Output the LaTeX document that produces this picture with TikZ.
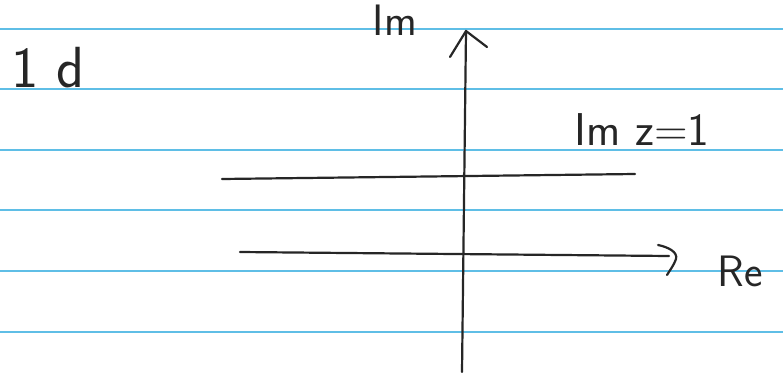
\documentclass[tikz,border=0pt]{standalone}
\tikzset{
  rule/.style={draw={rgb,255:red,95;green,190;blue,230}, line width=1.6pt},
  pen/.style={draw=black!85, line width=2.2pt, line cap=round, line join=round},
  hand/.style={inner sep=0pt, text=black!85, font=\sffamily}
}
\begin{document}
\begin{tikzpicture}[x=1pt,y=-1pt]
\useasboundingbox (0,0) rectangle (783,372);
\fill[white] (0,0) rectangle (783,372);
\foreach \yy in {29,89,150,210,271,332} \draw[rule] (0,\yy) -- (783,\yy);
% axes and lines
\coordinate (imtop) at (466,31);
\coordinate (imbot) at (462,372);
\coordinate (imL) at (450,57);
\coordinate (imR) at (487,47);
\draw[pen] (imbot) -- (imtop);
\draw[pen] (imL) -- (imtop) -- (imR);
\coordinate (lineA) at (222,179);
\coordinate (lineB) at (635,174);
\draw[pen] (lineA) -- (lineB);
\coordinate (reA) at (240,252);
\coordinate (reB) at (669,256);
\draw[pen] (reA) -- (reB);
\coordinate (hdA) at (658,245);
\coordinate (hdB) at (667,275);
\draw[pen] (hdA) .. controls (668,247) and (678,252) .. (676,259) .. controls (674,265) and (670,270) .. (hdB);
% labels
\node[hand, font=\sffamily\fontsize{44}{44}\selectfont] (imlab) at (395,20) {Im};
\node[hand, font=\sffamily\fontsize{46}{46}\selectfont] (imz) at (642,130) {Im z=1};
\node[hand, font=\sffamily\fontsize{44}{44}\selectfont] (relab) at (740,271) {Re};
\node[hand, font=\sffamily\fontsize{58}{58}\selectfont] (idlab) at (48,68) {1 d};
\end{tikzpicture}
\end{document}
